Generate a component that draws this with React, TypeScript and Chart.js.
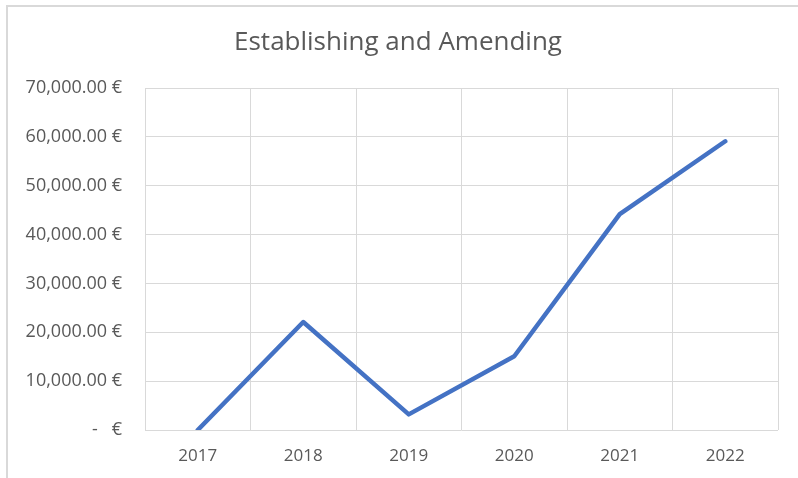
import React, { useEffect, useRef } from "react";
import { Chart, registerables } from "chart.js";

Chart.register(...registerables);

const TITLE = "Establishing and Amending";
const years = ["2017", "2018", "2019", "2020", "2021", "2022"];
const values = [0, 22100, 3200, 15100, 44200, 59100];
const yMax = 70000;
const yStep = 10000;

const FONT = "'Open Sans', sans-serif";

const fmt = (v: number) =>
  v === 0
    ? "-   €"
    : v.toLocaleString("en-US", { minimumFractionDigits: 2, maximumFractionDigits: 2 }) + " €";

export default function App() {
  const ref = useRef<HTMLCanvasElement>(null);
  useEffect(() => {
    if (!ref.current) return;
    const titlePlugin = {
      id: "customTitle",
      afterDraw(chart: any) {
        const ctx = chart.ctx;
        ctx.save();
        ctx.font = "26px " + FONT;
        ctx.fillStyle = "#595959";
        ctx.textAlign = "center";
        ctx.textBaseline = "middle";
        ctx.fillText(TITLE, 398, 43);
        ctx.restore();
      },
    };
    const chart = new Chart(ref.current, {
      type: "line",
      data: {
        labels: years,
        datasets: [
          {
            data: values,
            borderColor: "#4472C4",
            borderWidth: 4.5,
            borderCapStyle: "round",
            borderJoinStyle: "round",
            pointRadius: 0,
            tension: 0,
            fill: false,
          },
        ],
      },
      options: {
        animation: false,
        responsive: false,
        layout: { padding: { top: 88, right: 20, left: 0, bottom: 0 } },
        plugins: { legend: { display: false }, title: { display: false }, tooltip: { enabled: false } },
        scales: {
          x: {
            offset: true,
            grid: { offset: true, color: "#d9d9d9", lineWidth: 1, drawTicks: false },
            border: { display: false },
            ticks: { color: "#595959", font: { size: 17, family: FONT }, padding: 16 },
            afterFit: (s: any) => { s.height = 48; },
          },
          y: {
            min: 0,
            max: yMax,
            grid: { color: "#d9d9d9", lineWidth: 1, drawTicks: false },
            border: { display: false },
            ticks: {
              stepSize: yStep,
              color: "#595959",
              font: { size: 18, family: FONT },
              padding: 23,
              callback: (v: any) => fmt(Number(v)),
            },
            afterFit: (s: any) => { s.width = 145; },
          },
        },
      },
      plugins: [titlePlugin],
    } as any);
    return () => chart.destroy();
  }, []);
  return (
    <div style={{ position: "fixed", left: 0, top: 0, width: 798, height: 478, background: "#fff", overflow: "hidden" }}>
      <div style={{ position: "absolute", left: 6, top: 5, width: 900, height: 600, border: "2px solid #d9d9d9", boxSizing: "border-box" }} />
      <canvas ref={ref} width={798} height={478} style={{ position: "absolute", left: 0, top: 0 }} />
    </div>
  );
}
